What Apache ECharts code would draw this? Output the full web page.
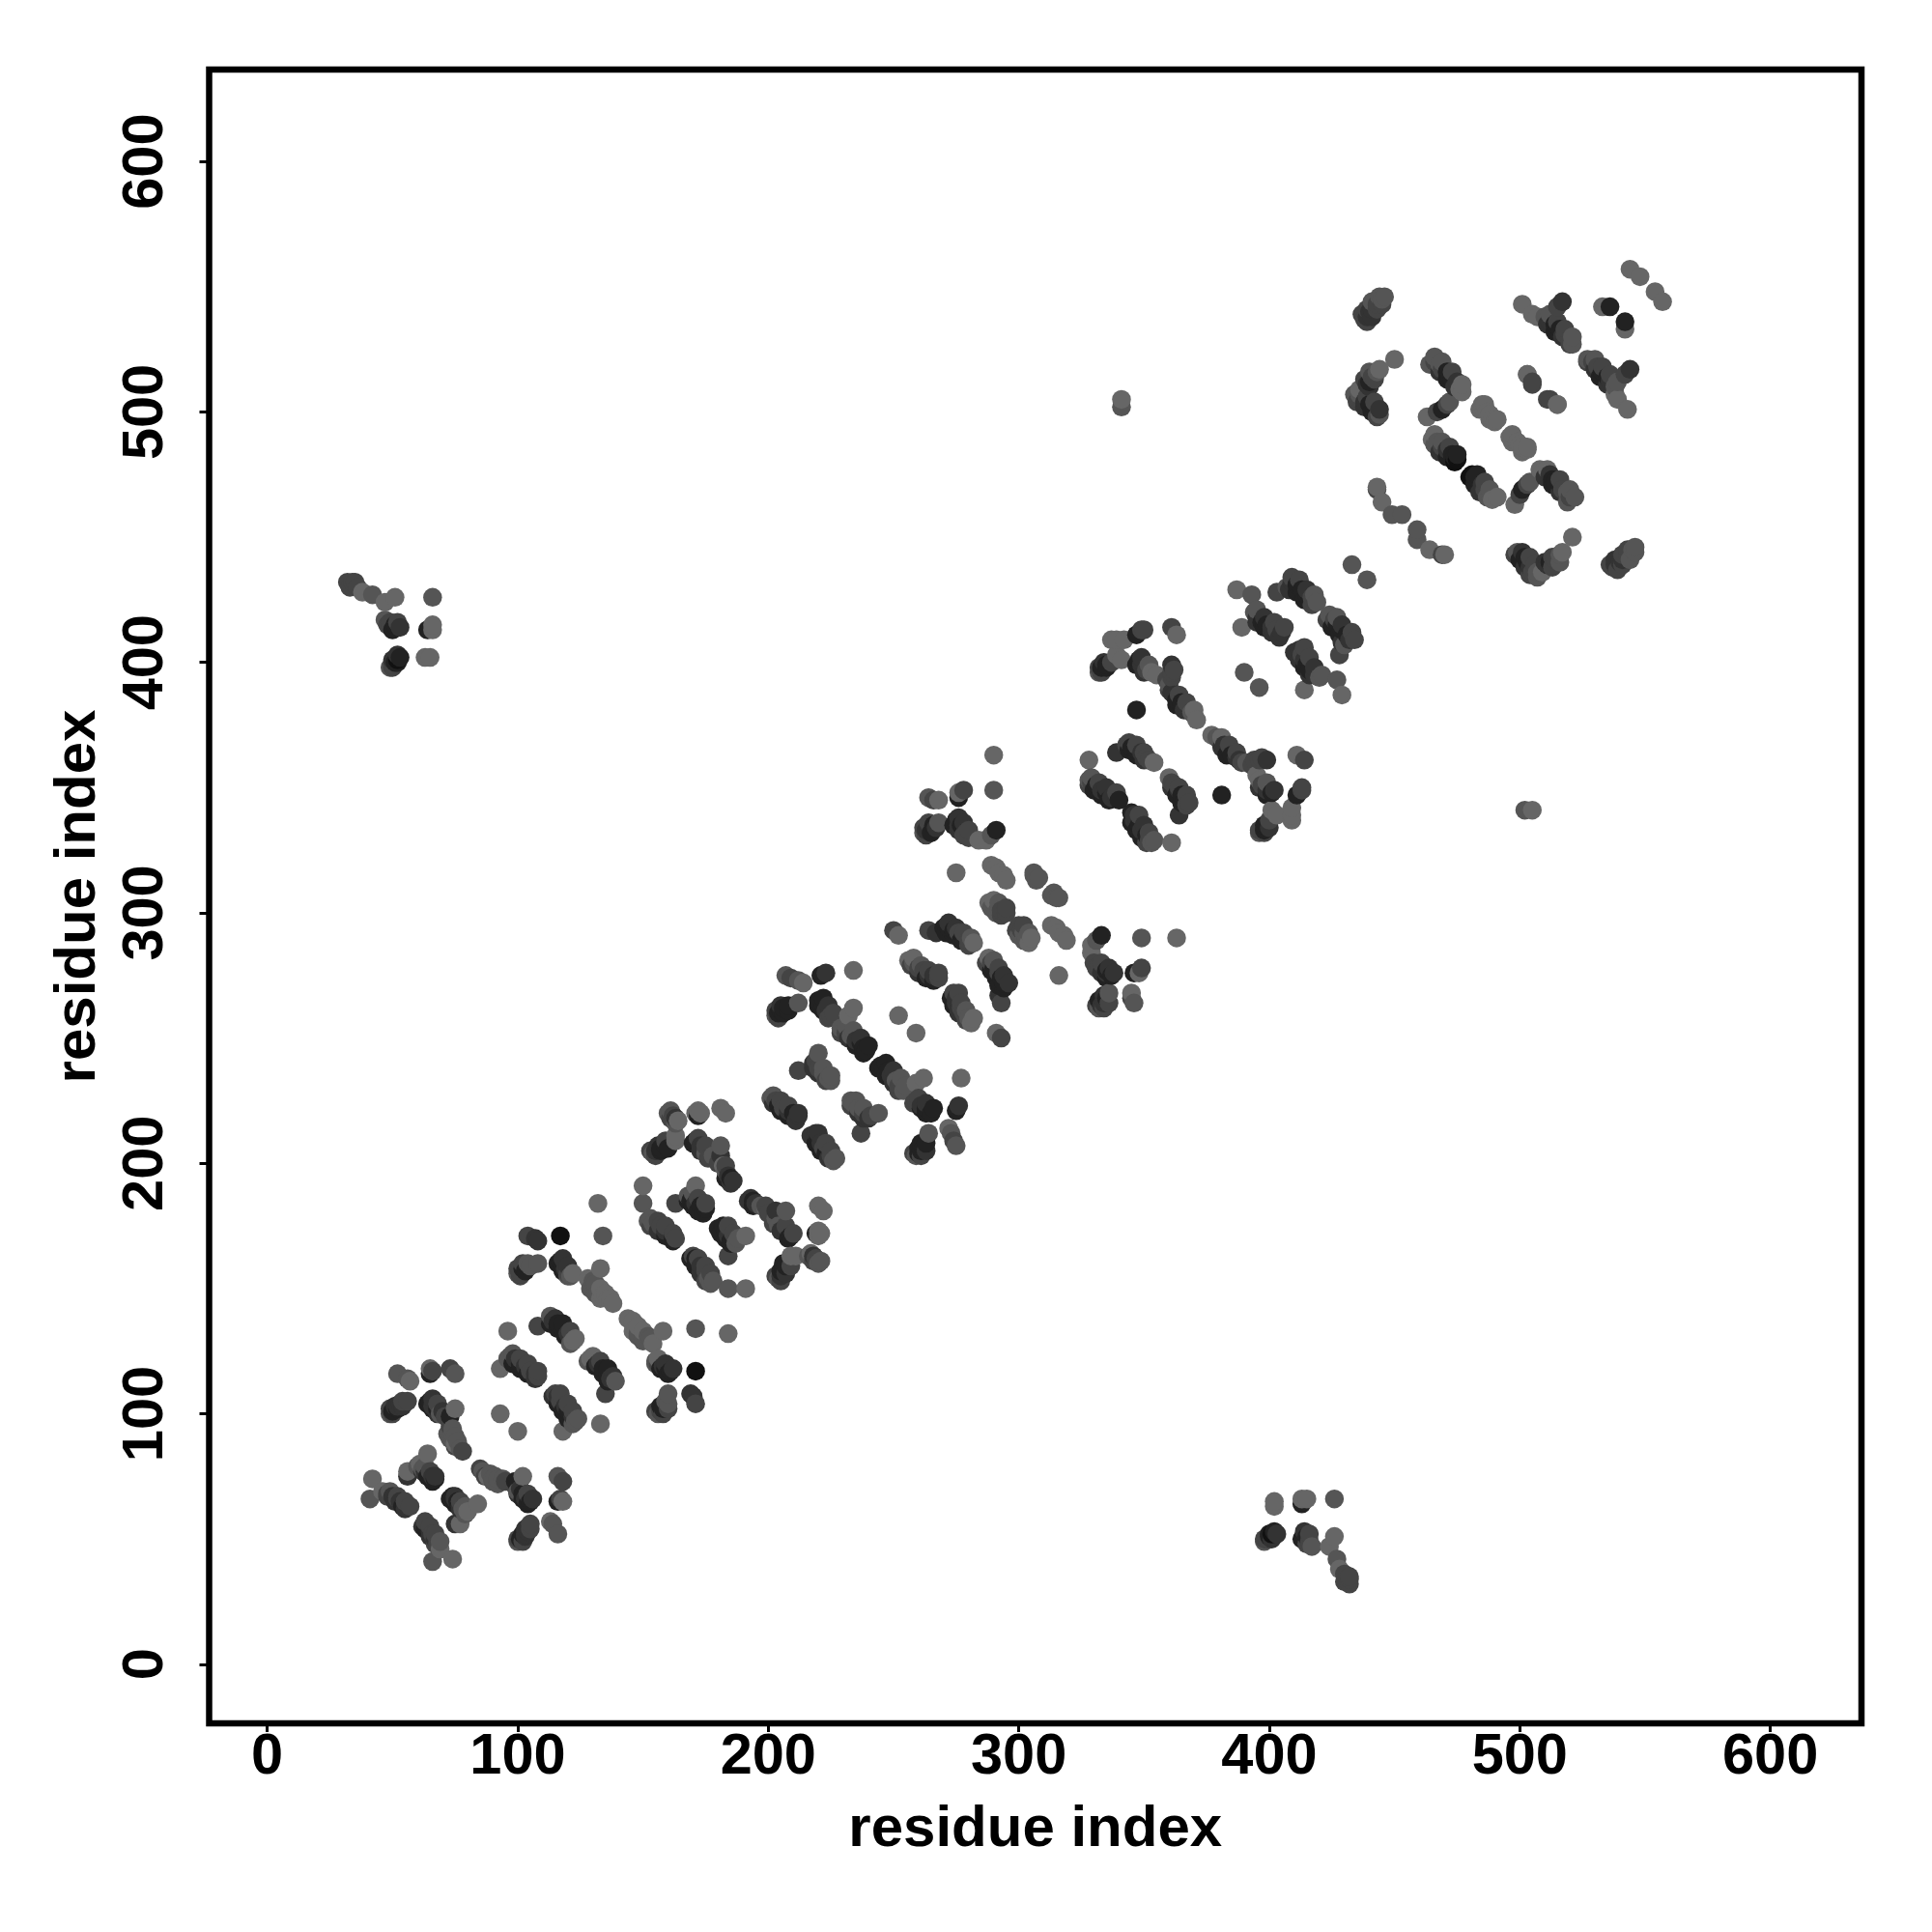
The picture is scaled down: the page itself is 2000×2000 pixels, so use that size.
<!DOCTYPE html>
<html><head><meta charset="utf-8">
<style>html,body{margin:0;background:#fff}#c{width:2000px;height:2000px}</style>
<script src="https://cdn.jsdelivr.net/npm/echarts@6/dist/echarts.min.js"></script>
</head><body><div id="c"></div>
<script>
// each contact: [residue i, residue j, darkness 1..6]; the map is symmetric so only j>i is listed
const contactsLongRange = [
[32,432,3],[34,432,3],[36,430,3],[38,428,1],[42,427,2],[47,424,1],[51,426,1],[66,426,2],
[47,417,2],[49,416,3],[51,415,5],[53,414,4],[64,413,5],[66,415,1],[66,413,1],
[49,398,2],[50,399,3],[51,400,5],[52,401,6],[53,402,5],[63,402,1],[65,402,1],
[341,505,1],[341,502,2],
[33,430,3],[35,432,3],[48,415,3],[50,413,5],[52,416,3],[50,398,3],[52,400,5],[50,401,4],[52,403,4]];
const contacts40to100 = [
[42,74,1],[41,66,2],[46,69,1],[48,68,3],[50,67,4],[52,66,3],[53,65,4],[55,62,4],[57,63,3],
[56,75,4],[56,77,1],[64,84,1],[60,79,2],[61,80,1],[62,78,2],[63,77,4],[65,76,5],[66,75,4],[67,74,5],
[73,95,3],[74,92,2],[74,90,2],[75,88,1],[77,86,2],[78,85,3],
[49,100,2],[50,101,5],[52,103,4],[53,104,4],[56,105,3],
[52,116,2],[56,114,2],[57,113,1],[65,116,5],[66,117,3],[65,118,1],[73,118,3],[75,116,2],
[65,105,5],[66,103,4],[68,102,5],[69,100,2],[71,99,3],[73,99,5],[75,102,1],
[48,67,3],[51,65,4],[54,63,5],[49,69,2],[52,67,3],[55,65,3],
[62,77,4],[64,75,5],[66,73,5],[63,79,2],[65,77,3],[67,75,4],
[74,94,2],[75,91,2],[76,89,2],[72,92,2],[73,90,2],[75,87,3],
[50,100,3],[52,102,5],[54,103,4],[49,102,3],[51,103,4],[54,105,3],
[64,104,5],[66,102,5],[68,100,4],[66,106,4],[68,104,3],[70,101,4]];
const contacts90to140 = [
[93,118,1],[96,133,1],[93,100,1],
[97,123,2],[99,122,4],[101,120,5],[103,119,4],[105,117,3],[107,116,4],[108,115,3],
[108,135,3],[113,139,2],[114,137,4],[116,136,5],[118,134,5],[120,132,4],[122,129,1],
[100,156,2],[101,157,3],[102,158,5],[104,160,2],[108,160,2],
[104,171,3],[107,170,4],[108,169,4],[117,171,6],
[117,161,5],[118,159,5],[119,158,4],[120,155,2],[121,155,2],
[133,158,1],[132,184,1],[134,171,2],
[128,154,1],[131,152,2],[130,150,2],[132,148,2],[134,147,1],[136,146,1],[138,144,1],
[96,122,2],[98,120,5],[101,118,5],[104,116,5],[107,114,4],[98,124,2],[101,122,3],[104,120,3],[108,117,3],
[113,136,5],[116,134,5],[119,131,5],[121,128,2],[115,138,4],[118,136,5],[121,133,3],[123,130,1],
[101,155,3],[103,157,5],[105,159,2],[100,158,3],[102,160,3],
[116,160,5],[118,157,5],[120,156,3],[118,162,4],[120,159,4],[122,156,1],
[129,150,2],[131,148,2],[133,146,1],[130,153,2],[133,150,1],[135,148,1],[137,146,1]];
const contacts150to190 = [
[150,191,1],[150,184,2],[163,184,3],
[152,177,2],[154,176,2],[157,175,3],[159,173,4],[162,171,5],[163,170,3],
[171,191,1],[168,187,2],[169,185,5],[171,184,4],[173,183,5],[175,182,5],
[160,220,2],[162,219,3],[163,218,4],[164,217,1],[172,219,5],[171,220,1],[173,220,1],[172,221,1],[181,222,1],[183,220,1],
[154,204,2],[155,205,4],[157,206,5],[159,207,5],[163,209,1],[163,211,1],
[171,209,5],[173,207,4],[175,204,2],[178,203,2],[181,207,2],[181,203,4],[182,199,1],[183,197,2],[184,195,4],[185,194,5],[186,193,4],
[153,175,3],[156,173,4],[159,171,5],[162,169,5],[153,178,2],[156,177,3],[159,175,3],[162,172,3],
[168,185,5],[170,183,5],[172,181,5],[174,180,5],[170,188,2],[172,186,3],[175,184,3],
[161,218,3],[163,216,2],[161,221,2],
[155,203,3],[157,205,5],[160,206,5],[153,205,3],[156,207,4],[159,209,3],
[170,208,5],[173,205,4],[176,202,3],[180,200,3],[183,194,5],[185,192,4],[172,210,3],[175,207,3],[183,199,3]];
const contacts200to240 = [
[201,226,2],[203,225,3],[204,223,5],[206,222,3],[208,221,4],[210,220,5],[212,219,4],
[212,237,3],[220,244,2],[218,240,4],[220,238,3],[222,236,2],[224,234,2],[225,233,2],
[203,259,2],[204,260,5],[205,261,5],[206,262,5],[208,263,5],[212,264,2],
[207,275,2],[209,274,3],[212,273,2],[214,272,1],[221,275,5],[223,276,4],[234,277,1],
[220,265,5],[222,263,5],[223,261,4],[225,259,3],[232,259,1],[234,262,1],
[229,254,2],[231,252,3],[233,251,2],[235,249,4],[237,248,5],[238,246,5],[239,245,5],
[202,224,4],[205,221,5],[208,219,5],[211,217,4],[202,227,2],[205,225,3],[208,223,3],[212,220,4],
[218,238,4],[220,236,4],[223,233,3],[219,241,3],[222,238,2],[225,235,2],
[204,258,3],[206,260,5],[208,261,5],[203,261,3],[205,263,4],
[220,263,5],[222,261,5],[224,258,3],[222,266,5],[224,263,4],[226,260,3],
[229,252,3],[232,250,4],[235,247,5],[238,244,5],[231,255,2],[234,253,2],[237,250,4],[240,247,5]];
const contacts250to300 = [
[252,259,1],[250,293,3],[252,291,1],
[256,281,1],[258,280,2],[260,278,3],[262,277,3],[264,275,4],[266,275,4],[268,274,3],
[264,293,3],[267,292,4],[270,294,5],[272,294,5],[274,293,5],[276,292,3],[278,290,5],[280,289,3],[282,288,1],
[275,316,1],[262,332,2],[263,333,4],[264,334,4],[266,335,5],[268,336,2],
[264,346,2],[266,345,3],[268,345,1],[276,346,5],[276,348,1],[278,349,3],[290,349,2],[290,363,1],
[275,337,5],[276,335,4],[277,335,5],[279,332,3],[280,330,3],[284,329,1],[287,329,1],[289,331,2],[291,333,5],
[289,319,1],[291,318,1],[292,316,1],[294,315,1],[295,313,1],[306,315,2],[308,314,2],[313,307,2],[316,306,2],
[288,304,1],[290,303,2],[292,302,2],[293,301,3],[295,300,3],
[257,279,3],[260,276,4],[263,274,5],[266,273,5],[258,282,1],[261,279,2],[264,277,3],[268,276,3],
[271,292,5],[274,291,5],[277,289,5],[280,287,3],[272,296,4],[275,294,4],[278,292,3],[281,290,2],
[263,331,3],[265,332,5],[267,334,4],[262,334,3],[264,336,3],
[274,335,5],[276,333,4],[278,331,3],[276,338,4],[278,336,4],[280,333,3],
[289,302,2],[291,300,2],[293,299,3],[290,305,1],[292,304,2],[295,302,3]];
const contacts330to370 = [
[328,361,1],[328,353,2],[329,352,3],[331,351,5],[333,349,4],[335,348,5],[337,346,4],[339,346,4],[340,345,5],
[339,364,4],[343,367,3],[345,366,5],[347,365,5],[349,364,4],[351,362,3],[352,361,3],[354,360,1],
[332,396,2],[333,398,5],[335,399,5],[337,400,3],[339,403,1],[341,401,1],[337,409,1],[339,409,1],[342,409,1],
[347,411,5],[349,413,3],[350,413,3],[361,414,3],[363,411,1],
[348,401,5],[349,399,4],[351,397,3],[353,396,1],[355,395,1],
[361,399,4],[361,396,3],[361,394,3],[360,391,2],[360,389,3],[362,387,4],[363,385,5],[365,384,5],[367,382,4],[369,380,2],[370,379,2],[371,377,1],
[347,381,5],[390,396,2],
[328,351,3],[330,349,5],[333,347,5],[336,345,5],[329,354,2],[332,352,3],[335,350,4],[339,348,3],
[344,365,5],[347,363,5],[350,361,4],[344,368,3],[347,367,3],[350,364,3],
[333,396,3],[335,398,5],[332,398,3],[334,400,4],
[347,399,5],[350,396,4],[349,402,4],[352,399,2],
[362,397,3],[359,393,3],[361,388,4],[363,383,5],[366,381,4],[364,387,3],[367,384,3],[370,381,1]];
const contacts385to420 = [
[387,429,1],[393,427,2],[389,414,1],[394,420,2],[395,418,4],[397,416,5],[399,415,5],[401,414,4],[403,413,3],[405,412,4],
[403,428,3],[407,430,2],[409,432,4],[411,431,5],[413,429,5],[415,427,5],[417,426,3],[419,424,2],[433,439,2],
[395,416,4],[398,414,5],[401,412,4],[404,410,4],[395,421,2],[398,418,4],[402,416,3],[406,414,3],
[408,429,4],[411,428,5],[414,425,5],[417,423,3],[409,434,3],[412,433,3],[415,429,4],[418,427,2]];
const contacts435to480 = [
[438,537,3],[439,538,4],[440,540,4],[441,541,4],[443,543,3],[445,545,2],[446,546,2],[450,521,1],
[434,507,2],[436,505,3],[438,504,4],[440,503,5],[442,502,5],[444,501,4],[444,499,2],
[436,509,1],[439,511,4],[440,512,5],[441,514,3],[443,516,2],[444,517,1],
[464,519,2],[466,520,3],[468,519,2],[469,517,3],[471,516,5],[472,514,5],[473,513,5],[475,512,4],[476,509,1],[477,508,1],
[463,498,1],[467,500,3],[469,501,5],[471,503,3],[472,504,2],
[443,469,3],[443,470,1],[445,464,1],[449,459,2],[453,459,2],
[465,489,1],[467,488,2],[469,486,3],[471,485,4],[473,483,5],[474,482,5],[475,481,6],
[439,536,3],[441,538,4],[443,541,3],[445,543,3],[437,539,3],[439,541,3],[441,544,2],[444,546,2],
[435,504,3],[438,502,4],[441,500,5],[443,498,3],[436,507,2],[439,506,3],[442,504,3],
[440,510,4],[442,513,3],[438,513,3],[440,516,2],
[468,516,4],[471,513,5],[474,510,4],[466,522,2],[469,520,2],[473,516,3],[477,511,1],
[466,487,2],[468,484,4],[471,482,5],[474,480,6],[466,491,1],[469,488,2],[472,486,3],[475,483,5]];
const contacts485to550 = [
[485,503,1],[487,500,1],[488,499,1],[491,497,1],[496,490,1],[499,488,1],[501,486,1],[503,486,1],
[501,543,1],[505,539,1],[507,538,1],[510,538,2],[512,536,4],[514,535,5],[516,533,5],[518,531,3],[520,529,3],[521,527,2],[515,542,3],[517,544,4],
[503,515,1],[505,512,3],[511,505,3],[515,503,1],
[533,542,1],[536,542,5],[544,557,1],[548,554,1],
[511,535,4],[514,532,5],[517,530,4],[520,527,3],[512,539,2],[515,536,3],[518,533,3],[521,530,2],
[486,501,1],[489,497,1],[497,488,1],[501,484,1]];
const xTickValues = [0,100,200,300,400,500,600];
const yTickValues = [0,100,200,300,400,500,600];
const axisTitle = 'residue index';

const listed = [].concat(contactsLongRange,contacts40to100,contacts90to140,contacts150to190,contacts200to240,contacts250to300,contacts330to370,contacts385to420,contacts435to480,contacts485to550);
const points = [];
listed.forEach(p => { points.push([p[0],p[1],p[2]]); points.push([p[1],p[0],p[2]]); });
points.sort((a,b) => a[0]-b[0] || a[1]-b[1]);

const tickFont = {fontFamily:'Liberation Sans',fontWeight:'bold',fontSize:59.5,color:'#000'};
const titleFont = {fontFamily:'Liberation Sans',fontWeight:'bold',fontSize:60,color:'#000'};
const chart = echarts.init(document.getElementById('c'),null,{renderer:'canvas'});
chart.setOption({
  animation:false,
  backgroundColor:'#fff',
  grid:{left:216.5,top:72,width:1710.5,height:1712,show:true,borderColor:'#000',borderWidth:6.5,backgroundColor:'transparent',containLabel:false},
  xAxis:{type:'value',min:-23.2,max:636.4,splitLine:{show:false},axisLine:{show:false,onZero:false},
    axisTick:{show:true,length:9,lineStyle:{color:'#000',width:3},customValues:xTickValues},
    axisLabel:Object.assign({show:true,margin:6,customValues:xTickValues,formatter:v=>String(v)},tickFont),
    name:axisTitle,nameLocation:'middle',nameGap:80,nameTextStyle:titleFont},
  yAxis:{type:'value',min:-23.6,max:636.7,splitLine:{show:false},axisLine:{show:false,onZero:false},
    axisTick:{show:true,length:10,lineStyle:{color:'#000',width:3},customValues:yTickValues},
    axisLabel:Object.assign({show:true,rotate:90,margin:35,customValues:yTickValues,formatter:v=>String(v)},tickFont),
    name:axisTitle,nameLocation:'middle',nameGap:105,nameTextStyle:titleFont},
  series:[{type:'scatter',data:points,symbol:'circle',symbolSize:19.5,silent:true,clip:false,
    itemStyle:{opacity:1,color:p=>{const g=102-(p.value[2]-1)*17;return 'rgb('+g+','+g+','+g+')';}}}]
});
</script></body></html>
